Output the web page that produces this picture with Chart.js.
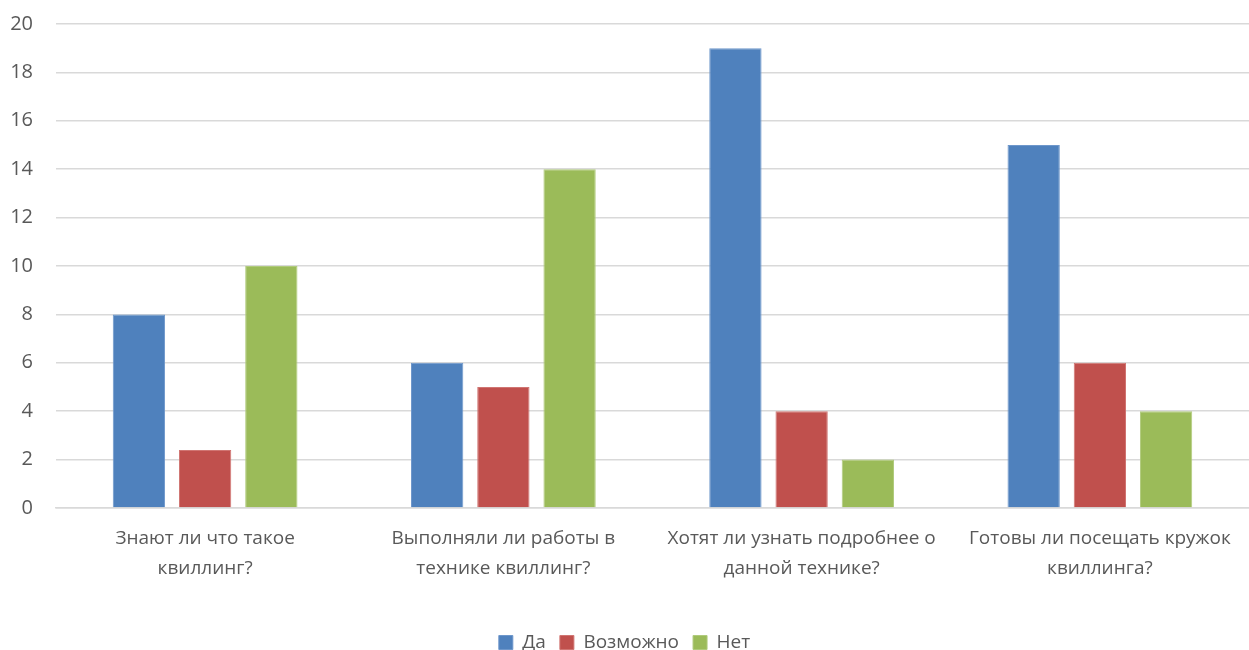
<!DOCTYPE html>
<html><head><meta charset="utf-8">
<script src="https://cdn.jsdelivr.net/npm/chart.js@4"></script>
<style>html,body{margin:0;padding:0;background:#fff;}#wrap{width:1249px;height:650px;}</style>
</head><body><div id="wrap"><canvas id="c"></canvas></div>
<script>
const categories = [
  ["Знают ли что такое", "квиллинг?"],
  ["Выполняли ли работы в", "технике квиллинг?"],
  ["Хотят ли узнать подробнее о", "данной технике?"],
  ["Готовы ли посещать кружок", "квиллинга?"]
];
const seriesNames = ["Да", "Возможно", "Нет"];
const yesValues = [8, 6, 19, 15];
const maybeValues = [2.4, 5, 4, 6];
const noValues = [10, 14, 2, 4];
const colors = ["#4F81BD", "#C0504D", "#9BBB59"];
const borders = ["#6E97CB", "#D07572", "#B0CB7C"];

Chart.defaults.font.family = "'Open Sans', 'Noto Sans', sans-serif";
Chart.defaults.color = "#595959";

const legendShift = {
  id: 'legendShift',
  beforeInit(chart) {
    const lg = chart.legend;
    const origFit = lg.fit;
    lg.fit = function () { origFit.call(this); this.height -= 12; };
  }
};

new Chart(document.getElementById('c'), {
  type: 'bar',
  data: {
    labels: categories,
    datasets: [yesValues, maybeValues, noValues].map((d, i) => ({
      label: seriesNames[i],
      data: d,
      backgroundColor: colors[i],
      borderColor: borders[i],
      borderWidth: 1,
      categoryPercentage: 0.666,
      barPercentage: 0.79
    }))
  },
  plugins: [legendShift],
  options: {
    responsive: true,
    maintainAspectRatio: false,
    animation: false,
    layout: { padding: { left: 0, right: 0, top: 24, bottom: 0 } },
    plugins: {
      legend: {
        position: 'bottom',
        labels: { boxWidth: 14, boxHeight: 14, font: { size: 19 }, padding: 14, color: '#595959' }
      },
      tooltip: { enabled: false }
    },
    scales: {
      x: {
        grid: { display: false },
        border: { color: '#D9D9D9', width: 1.5 },
        ticks: { font: { size: 19, lineHeight: 1.58 }, color: '#595959', maxRotation: 0, autoSkip: false, padding: 8 },
        afterFit(scale) { scale.height += 27; }
      },
      y: {
        min: 0, max: 20,
        ticks: { stepSize: 2, font: { size: 20 }, color: '#595959', padding: 23 },
        grid: { color: '#D9D9D9', lineWidth: 1.5, drawTicks: false },
        border: { display: false },
        afterFit(scale) { scale.width = 56; scale.paddingTop = 0; scale.paddingBottom = 0; }
      }
    }
  }
});
</script></body></html>
